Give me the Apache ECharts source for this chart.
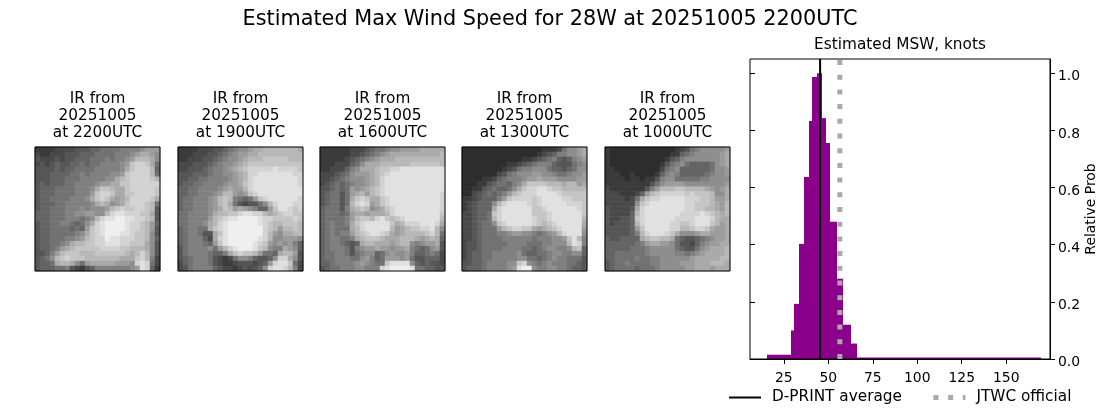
<!DOCTYPE html>
<html>
<head>
<meta charset="utf-8">
<style>html,body{margin:0;padding:0;background:#fff}#chart{width:1100px;height:409px}</style>
<script src="https://cdn.jsdelivr.net/npm/echarts@6/dist/echarts.min.js"></script>
</head>
<body>
<div id="chart"></div>
<script>
// IR thumbnails, brightness per cell (hex digit, 0 dark - f bright)
const ir2200 = [
  '22223 33344 45566 66777 78999', '32233 34445 55666 67778 9aa98', '43334 34455 56667 67789 bbba8',
  '34345 44556 56677 7789c ddca6', '44445 45566 66777 778ac dddb5', '44455 55667 67777 889cd dddb6',
  '44455 56667 77778 8abcd dddcb', '45455 56677 77899 aaccd ddddd', '45556 66677 78acc baacd ddddc',
  '45556 66677 79cdd caacc ddddc', '45566 66777 8acdc a9abd dddca', '45556 67777 78aba 89acd ddcb6',
  '45566 67778 78889 bcdcc ddcb4', '55566 67788 9988b deedd dcca4', '55566 67776 78bde effee ddcb4',
  '45566 77656 8adef fffed dcb95', '45566 66565 9cdef fffed dcb94', '45566 66678 acdef ffeed ccb84',
  '45566 67789 bcddf eeddd ccb85', '45566 78abb ccdde eeddc cca84', '45567 9abcc cccdd ddccb bba84',
  '44579 bcccb bbccc cccba bdb84', '4568b cdccc bbbbb bbaaa cdb73', '4556a bba86 9aaaa a9998 ded63',
  '45556 67432 45777 77778 9ed52'
]
const ir1900 = [
  '22223 33445 67889 aabbb bbbba', '22233 34456 7899a abbbb bbbbb', '22333 44567 889ab bbccc ccbbb',
  '33344 45678 89abc ccccc ccccc', '33444 56778 9abcd dddde ddddc', '44455 56778 89abd deeee eeedd',
  '44556 67777 89abd eeeee eeeed', '45566 77778 99acd eeeee eeeed', '55667 77789 a99bd eeeee eeeee',
  '55667 7789b b989c deeee eeeee', '56677 789bc b7656 9cdee eeeed', '56677 789bc a6434 468bd eeedd',
  '56677 789ac b9a98 7559c eedcd', '66777 78abb ccdee ddbab cddcc', '66777 79bcd eefff feddc cccdc',
  '66777 8abde fffff fedcb bcccb', '56776 6acde fffff ffdcb 9bbcb', '56776 44ace fffff ffdb9 8aabb',
  '56777 53ade fffff fedb8 89998', '56777 659ce fffff edc98 98975', '46777 7869b defff ecb87 7a985',
  '46777 76557 acdcc b9665 abb94', '45677 76432 36887 54458 dda84', '35677 76432 23444 3459d eec63',
  '34677 77543 32343 458de edb73'
]
const ir1600 = [
  '22222 23334 56678 89999 aaaaa', '22222 23345 6789a aaaaa aaaab', '22222 34567 89aaa bbbbb bbbbb',
  '22233 3568a aabbb bbbcc ccccb', '22333 578aa abccd deeee eeeee', '33345 68999 abcde eeeee eeeee',
  '33456 78889 abdee eeeee eeeee', '34565 67889 abdee eeeee eeeee', '44565 6989a bcdee eeeee eeeee',
  '45664 69ab9 bcdee eeeee eeeed', '45664 6acdc aacde eeeee eeeed', '45664 6bded 9acde eeeee eeeed',
  '56664 7abcb 89acd eeeee eeeed', '56665 69aa9 aaabd eeeee eeeec', '56666 79bcc bdecb cdeee eeeeb',
  '56766 7acde eeeec abddd eeeda', '56766 6abde eeeeb 9abcc ddeb8', '56767 79bcd eedca 9abbb bcdb6',
  '56776 67abc ccbaa abbba 9aba5', '56776 545ab baaa9 abb87 899a4', '56777 64789 9a998 99a76 56894',
  '56677 64678 85689 88975 56763', '56677 76689 75699 98964 45553', '55677 77898 766ce eee85 45443',
  '45667 77887 77def fffe6 65544'
]
const ir1300 = [
  '11111 11111 11111 12223 6889a', '11111 11111 11111 23457 7889a', '11111 11111 11223 45675 45789',
  '11111 11112 23456 77754 44678', '11111 11123 46778 88655 45688', '11111 11346 78889 98876 67889',
  '11112 23567 77899 a9998 88899', '11122 45665 78acc ccbbb abb9a', '11224 56556 8acdd eedcc bbbbb',
  '11345 65679 bcddd eeeed ccccc', '22345 5579c ddddc deeee ddccc', '23455 58bde eeedc deeee edddc',
  '23455 5adee eeeec cdeee eeedc', '33455 6cdee eeeec ccdee eeeec', '33455 6bdee eeeed ccdee eeeeb',
  '33456 68cde eeeed cbcde eeeea', '33456 669bc ddcca 9abcd eeee9', '33456 66778 99887 6789b deee8',
  '33456 66677 77776 77788 9ceb7', '34456 66667 77766 67788 8bed7', '34456 66677 77665 67887 78bc5',
  '34556 67777 78655 66788 77885', '34556 67777 78866 56787 76664', '44556 77778 8cd87 67877 76654',
  '45556 77778 9eff8 77887 76554'
]
const ir1000 = [
  '21111 11111 11112 34678 88889', '21111 11111 11122 56788 8889a', '21111 11111 11245 78888 8889a',
  '21111 11111 12467 86555 5689a', '22111 11111 13678 55555 56889', '22211 21111 25787 55555 67889',
  '22221 22122 47886 66667 78888', '22222 22224 68999 98888 88889', '32222 22247 9bbbc cbbbb a989a',
  '33322 2359b cdddd dcdcc cb88a', '33332 36acd deeee edddc cb99a', '33333 38cde eeeee eddcc cba9b',
  '43333 4adee eeeee eddcc bba9b', '43333 5bdee eeeee dddde dcbab', '43344 5cdee eeeed dddee edbaa',
  '43444 5bdee eeedd ccdee ecb9a', '44444 59cee eeedd bbcdd ca99a', '44444 57bde eedca 8889a a999a',
  '54455 55abc cbba6 54456 7899a', '55555 5679a a9986 44357 899aa', '55555 66678 88886 54468 9aaab',
  '55666 66678 88887 76789 aaaab', '55666 67667 78888 889aa aaabb', '45667 66667 78888 999aa abbba',
  '45666 65666 78888 899aa a9aaa'
]
const irGrids = [ir2200, ir1900, ir1600, ir1300, ir1000]
const irTitles = ['2200UTC', '1900UTC', '1600UTC', '1300UTC', '1000UTC']
const irDate = '20251005'
const irLeft = [35, 178, 320, 462, 605]

// histogram bins, wind speed in knots and relative probability
const binEdges = [15.8, 29.3, 31, 33.8, 36.1, 38.9, 41.1, 43.6, 46.6, 48.8, 51.1, 55, 58.4, 62.9, 66.3, 169.3]
const binProb = [0.015, 0.1, 0.193, 0.403, 0.637, 0.833, 0.987, 1, 0.843, 0.756, 0.48, 0.281, 0.12, 0.054, 0.005]
const dprintAverage = 45.4
const jtwcOfficial = 56.5
const xTicks = [25, 50, 75, 100, 125, 150]
const yTicks = [0, 0.2, 0.4, 0.6, 0.8, 1]

const font = 'DejaVu Sans'
const grids = []
const xAxes = []
const yAxes = []
const series = []
const titles = [{
  text: 'Estimated Max Wind Speed for 28W at 20251005 2200UTC',
  left: 550, top: 9, padding: 0, textAlign: 'center',
  textStyle: {fontFamily: font, fontSize: 20.8, fontWeight: 'normal', color: '#000'}
}, {
  text: 'Estimated MSW, knots',
  left: 900, top: 38, padding: 0, textAlign: 'center',
  textStyle: {fontFamily: font, fontSize: 15.3, fontWeight: 'normal', color: '#000'}
}]

irGrids.forEach((rows, i) => {
  const cells = []
  rows.forEach((row, r) => {
    row.replace(/ /g, '').split('').forEach((c, k) => cells.push([k, r, parseInt(c, 16)]))
  })
  const ids = rows.map((_, k) => k)
  grids.push({
    left: irLeft[i], top: 147, width: 125, height: 124, z: 3,
    show: true, backgroundColor: 'transparent', borderColor: '#000', borderWidth: 1
  })
  xAxes.push({type: 'category', gridIndex: i, data: ids, show: false})
  yAxes.push({type: 'category', gridIndex: i, data: ids, show: false, inverse: true})
  series.push({type: 'heatmap', xAxisIndex: i, yAxisIndex: i, data: cells, silent: true})
  titles.push({
    text: 'IR from\n' + irDate + '\nat ' + irTitles[i],
    left: irLeft[i] + 62.5, top: 91, padding: 0, textAlign: 'center',
    textStyle: {fontFamily: font, fontSize: 15.3, lineHeight: 17, fontWeight: 'normal', color: '#000'}
  })
})

const h = irGrids.length
grids.push({
  left: 750, top: 59, width: 300, height: 300, z: 3,
  show: true, backgroundColor: 'transparent', borderColor: '#000', borderWidth: 1
})
xAxes.push({
  type: 'value', gridIndex: h, min: 6, max: 174.6,
  splitLine: {show: false},
  axisLine: {lineStyle: {color: '#000'}},
  axisTick: {length: 5, lineStyle: {color: '#000'}, customValues: xTicks},
  axisLabel: {color: '#000', fontFamily: font, fontSize: 13.9, margin: 12, customValues: xTicks}
})
yAxes.push({
  type: 'value', gridIndex: h, position: 'right', min: 0, max: 1.05,
  name: 'Relative Prob', nameLocation: 'middle', nameRotate: 90, nameGap: 29,
  nameTextStyle: {color: '#000', fontFamily: font, fontSize: 13.9},
  splitLine: {show: false},
  axisLine: {show: true, lineStyle: {color: '#000'}},
  axisTick: {show: true, length: 5, lineStyle: {color: '#000'}, customValues: yTicks},
  axisLabel: {color: '#000', fontFamily: font, fontSize: 13.9, margin: 8, customValues: yTicks,
    verticalAlign: 'top', lineHeight: 7, formatter: v => v.toFixed(1)}
})
// the reference also has short inward ticks on the left edge
yAxes.push({
  type: 'value', gridIndex: h, position: 'left', min: 0, max: 1.05,
  splitLine: {show: false},
  axisLine: {show: false},
  axisLabel: {show: false},
  axisTick: {show: true, inside: true, length: 5, lineStyle: {color: '#000'}, customValues: yTicks}
})
series.push({
  type: 'custom', xAxisIndex: h, yAxisIndex: h, silent: true, z: 2,
  data: binProb.map((p, i) => [binEdges[i], binEdges[i + 1], p]),
  encode: {x: [0, 1], y: 2},
  renderItem (params, api) {
    const a = api.coord([api.value(0), api.value(2)])
    const b = api.coord([api.value(1), 0])
    const x0 = Math.round(a[0])
    const x1 = Math.round(b[0])
    return {
      type: 'rect',
      shape: {x: x0, y: a[1], width: x1 - x0, height: b[1] - a[1]},
      style: {fill: '#8b008b'}
    }
  }
})
series.push({
  name: 'D-PRINT average', type: 'line', xAxisIndex: h, yAxisIndex: h, symbol: 'none', silent: true, z: 4,
  data: [[dprintAverage, 0], [dprintAverage, 1.05]],
  lineStyle: {color: '#000', width: 2}, itemStyle: {color: 'transparent'}
})
series.push({
  name: 'JTWC official', type: 'line', xAxisIndex: h, yAxisIndex: h, symbol: 'none', silent: true, z: 4,
  data: [[jtwcOfficial, 0], [jtwcOfficial, 1.05]],
  lineStyle: {color: '#a9a9a9', width: 5, type: [5, 9.7]}, itemStyle: {color: 'transparent'}
})

const myChart = echarts.init(document.getElementById('chart'), null, {renderer: 'canvas'})
myChart.setOption({
  animation: false,
  backgroundColor: '#fff',
  title: titles,
  grid: grids,
  xAxis: xAxes,
  yAxis: yAxes,
  series: series,
  visualMap: {
    show: false, type: 'continuous', min: 0, max: 15, dimension: 2,
    seriesIndex: irGrids.map((_, i) => i),
    inRange: {color: ['#1f1f1f', '#efefef']}
  },
  legend: {
    left: 728, top: 390, padding: 0, itemWidth: 32, itemHeight: 14, itemGap: 29,
    data: ['D-PRINT average', 'JTWC official'],
    selectedMode: false,
    itemStyle: {color: 'transparent', borderWidth: 0, opacity: 0},
    lineStyle: {width: 'inherit'},
    textStyle: {fontFamily: font, fontSize: 15.3, color: '#000', padding: [1, 0, 0, 6]}
  }
})
</script>
</body>
</html>
